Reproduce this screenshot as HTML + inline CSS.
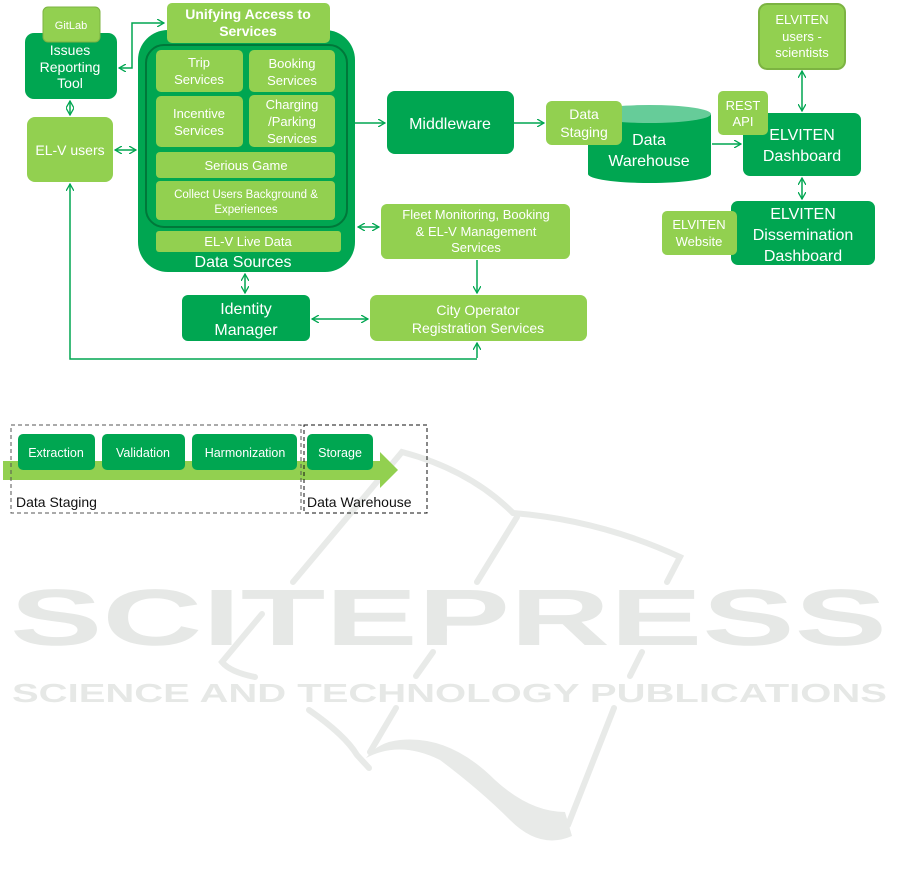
<!DOCTYPE html>
<html><head><meta charset="utf-8"><style>
html,body{margin:0;padding:0;background:#fff;}
svg{display:block;font-family:"Liberation Sans",sans-serif;}
</style></head><body>
<svg width="901" height="876" viewBox="0 0 901 876" xmlns="http://www.w3.org/2000/svg">
<defs>
<marker id="a" markerWidth="8" markerHeight="8" refX="7" refY="4" orient="auto-start-reverse" markerUnits="userSpaceOnUse"><path d="M0,0 L7,4 L0,8" fill="none" stroke="#00a651" stroke-width="1.3"/></marker>
</defs>
<!-- watermark -->
<g fill="none" stroke="#e8eae8" stroke-width="6" stroke-linecap="round">
<path d="M293,582 L402,452 Q470,470 513,513 Q600,520 680,557 L667,582"/>
<path d="M477,582 L517,517"/>
<path d="M262,614 L222,662 Q230,672 255,677"/>
<path d="M433,652 L416,676"/>
<path d="M642,652 L630,676"/>
<path d="M444,630 L442,642"/>
<path d="M309,710 Q345,735 357,755 L369,768"/>
<path d="M396,708 L370,752"/>
<path d="M614,708 L568,825"/>
</g>
<path d="M366,758 Q400,740 440,760 Q480,790 510,820 Q540,850 572,836 L565,812 Q530,812 495,780 Q450,735 400,740 Q378,742 366,758 Z" fill="#e8eae8"/>
<g fill="#e6e8e6">
<text x="10" y="645" font-size="80" font-weight="bold" textLength="877" lengthAdjust="spacingAndGlyphs">SCITEPRESS</text>
<text x="12" y="702" font-size="26" font-weight="bold" textLength="875" lengthAdjust="spacingAndGlyphs">SCIENCE AND TECHNOLOGY PUBLICATIONS</text>
</g>

<g stroke="#00a651" stroke-width="1.5" fill="none">
<line x1="70" y1="101" x2="70" y2="115" marker-start="url(#a)" marker-end="url(#a)"/>
<line x1="115" y1="150" x2="136" y2="150" marker-start="url(#a)" marker-end="url(#a)"/>
<polyline points="119,68 132,68 132,23 164,23" marker-start="url(#a)" marker-end="url(#a)"/>
<line x1="355" y1="123" x2="385" y2="123" marker-end="url(#a)"/>
<line x1="514" y1="123" x2="544" y2="123" marker-end="url(#a)"/>
<line x1="712" y1="144" x2="741" y2="144" marker-end="url(#a)"/>
<line x1="802" y1="71" x2="802" y2="111" marker-start="url(#a)" marker-end="url(#a)"/>
<line x1="802" y1="178" x2="802" y2="199" marker-start="url(#a)" marker-end="url(#a)"/>
<line x1="358" y1="227" x2="379" y2="227" marker-start="url(#a)" marker-end="url(#a)"/>
<line x1="245" y1="274" x2="245" y2="293" marker-start="url(#a)" marker-end="url(#a)"/>
<line x1="312" y1="319" x2="368" y2="319" marker-start="url(#a)" marker-end="url(#a)"/>
<line x1="477" y1="260" x2="477" y2="293" marker-end="url(#a)"/>
<polyline points="477,358 477,343" marker-end="url(#a)"/>
<polyline points="477,359 70,359 70,184" marker-end="url(#a)"/>
</g>

<rect x="25" y="33" width="92" height="66" rx="9" fill="#00a651"/>
<rect x="43" y="7" width="57" height="35" rx="5" fill="#92d050" stroke="#7cb342" stroke-width="1"/>
<text x="71" y="29" font-size="11" fill="#fff" text-anchor="middle">GitLab</text>
<g fill="#fff" font-size="14" text-anchor="middle"><text x="70" y="55">Issues</text><text x="70" y="72">Reporting</text><text x="70" y="88">Tool</text></g>
<rect x="27" y="117" width="86" height="65" rx="8" fill="#92d050"/>
<text x="70" y="155" font-size="14" fill="#fff" text-anchor="middle">EL-V users</text>

<rect x="138" y="30" width="217" height="242" rx="30" fill="#00a651"/>
<rect x="146" y="45" width="201" height="182" rx="18" fill="#00a651" stroke="#00783a" stroke-width="2"/>
<rect x="167" y="3" width="163" height="40" rx="5" fill="#92d050"/>
<g fill="#fff" font-size="14" font-weight="bold" text-anchor="middle"><text x="248" y="19">Unifying Access to</text><text x="248" y="36">Services</text></g>
<g fill="#92d050">
<rect x="156" y="50" width="87" height="42" rx="5"/><rect x="249" y="50" width="86" height="42" rx="5"/>
<rect x="156" y="96" width="87" height="51" rx="5"/><rect x="249" y="95" width="86" height="52" rx="5"/>
<rect x="156" y="152" width="179" height="26" rx="4"/><rect x="156" y="181" width="179" height="39" rx="4"/>
<rect x="156" y="231" width="185" height="21" rx="3"/>
</g>
<g fill="#fff" font-size="13" text-anchor="middle">
<text x="199" y="67">Trip</text><text x="199" y="84">Services</text>
<text x="292" y="68">Booking</text><text x="292" y="85">Services</text>
<text x="199" y="118">Incentive</text><text x="199" y="135">Services</text>
<text x="292" y="109">Charging</text><text x="292" y="126">/Parking</text><text x="292" y="143">Services</text>
<text x="246" y="170">Serious Game</text>
<text x="246" y="198" font-size="11.5">Collect Users Background &amp;</text><text x="246" y="213" font-size="11.5">Experiences</text>
<text x="248" y="246">EL-V Live Data</text>
<text x="243" y="267" font-size="16">Data Sources</text>
</g>

<rect x="387" y="91" width="127" height="63" rx="8" fill="#00a651"/>
<text x="450" y="129" font-size="16" fill="#fff" text-anchor="middle">Middleware</text>
<path d="M588,114 L588,174 A61.5,9 0 0 0 711,174 L711,114" fill="#00a651"/>
<ellipse cx="649.5" cy="114" rx="61.5" ry="9" fill="#66cc99"/>
<g fill="#fff" font-size="16" text-anchor="middle"><text x="649" y="145">Data</text><text x="649" y="166">Warehouse</text></g>
<rect x="546" y="101" width="76" height="44" rx="6" fill="#92d050"/>
<g fill="#fff" font-size="14" text-anchor="middle"><text x="584" y="119">Data</text><text x="584" y="137">Staging</text></g>

<rect x="743" y="113" width="118" height="63" rx="7" fill="#00a651"/>
<rect x="718" y="91" width="50" height="44" rx="5" fill="#92d050"/>
<g fill="#fff" font-size="13" text-anchor="middle"><text x="743" y="110">REST</text><text x="743" y="126">API</text></g>
<g fill="#fff" font-size="16" text-anchor="middle"><text x="802" y="140">ELVITEN</text><text x="802" y="161">Dashboard</text></g>
<rect x="759" y="4" width="86" height="65" rx="8" fill="#92d050" stroke="#7cb342" stroke-width="2"/>
<g fill="#fff" font-size="13" text-anchor="middle"><text x="802" y="24">ELVITEN</text><text x="802" y="41">users -</text><text x="802" y="57">scientists</text></g>
<rect x="731" y="201" width="144" height="64" rx="7" fill="#00a651"/>
<g fill="#fff" font-size="16" text-anchor="middle"><text x="803" y="219">ELVITEN</text><text x="803" y="240">Dissemination</text><text x="803" y="261">Dashboard</text></g>
<rect x="662" y="211" width="75" height="44" rx="5" fill="#92d050"/>
<g fill="#fff" font-size="13" text-anchor="middle"><text x="699" y="229">ELVITEN</text><text x="699" y="246">Website</text></g>

<rect x="381" y="204" width="189" height="55" rx="6" fill="#92d050"/>
<g fill="#fff" font-size="13" text-anchor="middle"><text x="476" y="219">Fleet Monitoring, Booking</text><text x="476" y="236">&amp; EL-V Management</text><text x="476" y="252">Services</text></g>
<rect x="182" y="295" width="128" height="46" rx="6" fill="#00a651"/>
<g fill="#fff" font-size="16" text-anchor="middle"><text x="246" y="314">Identity</text><text x="246" y="335">Manager</text></g>
<rect x="370" y="295" width="217" height="46" rx="7" fill="#92d050"/>
<g fill="#fff" font-size="14" text-anchor="middle"><text x="478" y="315">City Operator</text><text x="478" y="333">Registration Services</text></g>

<path d="M3,461 L380,461 L380,452 L398,470 L380,488 L380,480 L3,480 Z" fill="#92d050"/>
<g fill="#00a651">
<rect x="18" y="434" width="77" height="36" rx="5"/><rect x="102" y="434" width="83" height="36" rx="5"/>
<rect x="192" y="434" width="105" height="36" rx="5"/><rect x="307" y="434" width="66" height="36" rx="5"/>
</g>
<g fill="#fff" font-size="12.5" text-anchor="middle">
<text x="56" y="457">Extraction</text><text x="143" y="457">Validation</text><text x="245" y="457">Harmonization</text><text x="340" y="457">Storage</text>
</g>
<rect x="11" y="425" width="290" height="88" fill="none" stroke="#555" stroke-dasharray="4,3" stroke-width="1"/>
<rect x="304" y="425" width="123" height="88" fill="none" stroke="#111" stroke-dasharray="4,3" stroke-width="1"/>
<g fill="#111" font-size="14"><text x="16" y="507">Data Staging</text><text x="307" y="507">Data Warehouse</text></g>
</svg>
</body></html>
